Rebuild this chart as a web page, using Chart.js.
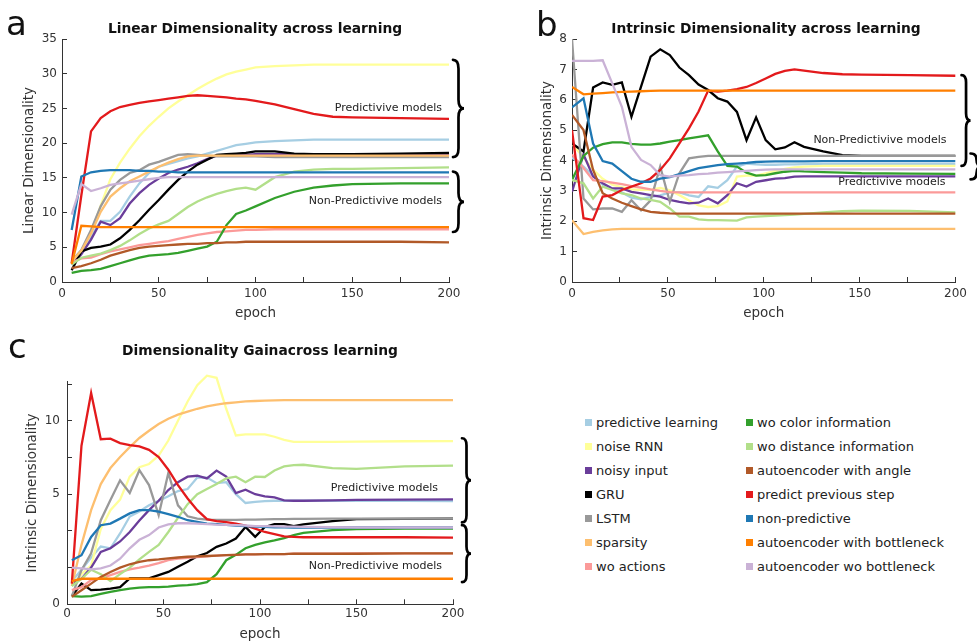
<!DOCTYPE html>
<html>
<head>
<meta charset="utf-8">
<title>Dimensionality across learning</title>
<script src="https://cdn.jsdelivr.net/npm/chart.js@4.4.1/dist/chart.umd.min.js"></script>
<style>
    body { margin: 0; background: #fff; font-family: 'DejaVu Sans', sans-serif; }
    #page { position: relative; width: 977px; height: 643px; overflow: hidden; }
    .panel { position: absolute; }
    .letter { position: absolute; font-size: 34px; line-height: 1; color: #111; }
    .title { position: absolute; font-size: 13.8px; line-height: 1.2; font-weight: bold; color: #111;
             white-space: nowrap; transform: translateX(-50%); }
    .legend-item { position: absolute; display: flex; align-items: center; height: 16px;
                   font-size: 13px; color: #222; white-space: nowrap; }
    .swatch { display: inline-block; width: 7px; height: 7px; margin-right: 4px; }
</style>
</head>
<body>
<div id="page">
    <div class="panel" style="left:0;top:0;width:480px;height:325px"><canvas id="linChart"></canvas></div>
    <div class="panel" style="left:520px;top:0;width:457px;height:325px"><canvas id="intChart"></canvas></div>
    <div class="panel" style="left:0;top:340px;width:480px;height:303px"><canvas id="gainChart"></canvas></div>

    <div class="letter" style="left:6px;top:6px">a</div>
    <div class="letter" style="left:536px;top:7px">b</div>
    <div class="letter" style="left:8px;top:329px">c</div>

    <div class="title" style="left:255px;top:20px">Linear Dimensionality across learning</div>
    <div class="title" style="left:766px;top:20px">Intrinsic Dimensionality across learning</div>
    <div class="title" style="left:260px;top:342px">Dimensionality Gainacross learning</div>

    <div id="legend"></div>
</div>

<script>
// ---- models (legend order) ----
const modelNames = [
    'predictive learning', 'noise RNN', 'noisy input', 'GRU', 'LSTM', 'sparsity', 'wo actions',
    'wo color information', 'wo distance information', 'autoencoder with angle',
    'predict previous step', 'non-predictive', 'autoencoder with bottleneck', 'autoencoder wo bottleneck'
];
const modelColors = [
    '#a6cee3', '#ffff99', '#6a3d9a', '#000000', '#999999', '#fdbf6f', '#fb9a99',
    '#33a02c', '#b2df8a', '#b15928', '#e31a1c', '#1f78b4', '#ff7f00', '#cab2d6'
];

// ---- a: linear dimensionality ----
const epochsA = [5, 10, 15, 20, 25, 30, 35, 40, 45, 50, 55, 60, 65, 70, 75, 80, 85, 90, 95, 100, 110, 120, 130, 140, 150, 175, 200];
const linPredictive = [3.0, 4.5, 6.5, 8.8, 8.8, 10.1, 12.3, 14.2, 15.7, 16.6, 17.0, 17.4, 17.8, 18.1, 18.5, 18.9, 19.3, 19.7, 19.9, 20.1, 20.3, 20.4, 20.5, 20.5, 20.5, 20.5, 20.5];
const linNoiseRnn = [2.5, 4.5, 7.0, 11.0, 14.8, 17.2, 19.2, 21.0, 22.5, 23.8, 25.0, 26.0, 26.9, 27.8, 28.6, 29.3, 29.9, 30.3, 30.6, 30.9, 31.1, 31.2, 31.3, 31.3, 31.3, 31.3, 31.3];
const linNoisyInput = [2.5, 4.0, 6.1, 8.7, 8.2, 9.2, 11.3, 12.8, 14.0, 14.9, 15.7, 16.2, 16.6, 17.1, 17.7, 18.2, 18.3, 18.3, 18.3, 18.4, 18.4, 18.4, 18.4, 18.4, 18.4, 18.4, 18.4];
const linGru = [1.7, 4.4, 4.9, 5.1, 5.4, 6.3, 7.5, 8.9, 10.4, 11.8, 13.3, 14.7, 15.9, 16.9, 17.6, 18.3, 18.4, 18.5, 18.6, 18.8, 18.8, 18.5, 18.4, 18.4, 18.4, 18.5, 18.6];
const linLstm = [3.0, 4.6, 7.5, 10.9, 13.3, 14.7, 15.7, 16.1, 16.9, 17.3, 17.8, 18.3, 18.4, 18.3, 18.2, 18.1, 18.1, 18.1, 18.1, 18.1, 18.0, 18.0, 18.0, 18.0, 18.0, 18.0, 18.0];
const linSparsity = [3.0, 4.5, 7.0, 10.1, 12.3, 13.5, 14.5, 15.2, 15.9, 16.6, 17.2, 17.7, 18.1, 18.2, 18.2, 18.2, 18.2, 18.2, 18.2, 18.2, 18.2, 18.2, 18.2, 18.2, 18.2, 18.2, 18.2];
const linWoActions = [2.8, 3.4, 3.5, 4.0, 4.4, 4.7, 5.0, 5.3, 5.5, 5.7, 5.9, 6.2, 6.5, 6.8, 7.0, 7.2, 7.3, 7.4, 7.5, 7.5, 7.6, 7.6, 7.6, 7.6, 7.6, 7.6, 7.6];
const linWoColor = [1.3, 1.6, 1.7, 1.9, 2.3, 2.7, 3.1, 3.5, 3.8, 3.9, 4.0, 4.2, 4.5, 4.8, 5.1, 5.8, 8.2, 9.8, 10.3, 10.9, 12.1, 13.0, 13.6, 13.9, 14.1, 14.2, 14.2];
const linWoDistance = [2.5, 3.5, 3.8, 4.1, 4.6, 5.2, 6.0, 6.9, 7.7, 8.3, 8.8, 9.8, 10.8, 11.6, 12.2, 12.7, 13.1, 13.4, 13.6, 13.3, 15.1, 15.9, 16.2, 16.3, 16.3, 16.4, 16.5];
const linAeAngle = [2.0, 2.3, 2.7, 3.2, 3.8, 4.2, 4.6, 4.9, 5.1, 5.2, 5.3, 5.4, 5.5, 5.5, 5.6, 5.6, 5.7, 5.7, 5.8, 5.8, 5.8, 5.8, 5.8, 5.8, 5.8, 5.8, 5.7];
const linPrevStep = [2.7, 12.5, 21.7, 23.6, 24.6, 25.2, 25.5, 25.8, 26.0, 26.2, 26.4, 26.6, 26.8, 26.9, 26.8, 26.7, 26.6, 26.4, 26.3, 26.1, 25.6, 24.9, 24.2, 23.8, 23.7, 23.6, 23.5];
const linNonPredictive = [7.5, 15.2, 15.8, 16.0, 16.1, 16.1, 16.1, 16.0, 16.0, 15.9, 15.9, 15.8, 15.8, 15.8, 15.8, 15.8, 15.8, 15.8, 15.8, 15.8, 15.8, 15.8, 15.8, 15.8, 15.8, 15.8, 15.8];
const linAeBottleneck = [2.6, 8.1, 8.0, 7.9, 7.9, 7.9, 7.9, 7.9, 7.9, 7.9, 7.9, 7.9, 7.9, 7.9, 7.9, 7.9, 7.9, 7.9, 7.9, 7.9, 7.9, 7.9, 7.9, 7.9, 7.9, 7.9, 7.9];
const linAeNoBottleneck = [9.7, 14.1, 13.1, 13.5, 14.0, 14.2, 14.4, 14.6, 14.8, 15.0, 15.1, 15.1, 15.1, 15.1, 15.1, 15.1, 15.1, 15.1, 15.1, 15.1, 15.1, 15.1, 15.1, 15.1, 15.1, 15.1, 15.1];

// ---- b: intrinsic dimensionality ----
const epochsB = [0, 6, 11, 16, 21, 26, 31, 36, 41, 46, 51, 56, 61, 66, 71, 76, 81, 86, 91, 96, 101, 106, 111, 116, 121, 131, 141, 151, 176, 200];
const intPredictive = [4.1, 3.8, 3.5, 3.2, 3.05, 2.95, 2.78, 2.72, 2.8, 2.85, 2.95, 2.95, 2.85, 2.8, 3.15, 3.1, 3.35, 3.8, 3.9, 3.87, 3.86, 3.86, 3.87, 3.87, 3.88, 3.88, 3.88, 3.88, 3.88, 3.88];
const intNoiseRnn = [4.55, 4.1, 3.7, 3.4, 3.2, 3.12, 3.05, 3.03, 3.03, 3.1, 3.02, 2.86, 2.68, 2.52, 2.47, 2.5, 2.65, 3.47, 3.5, 3.5, 3.58, 3.66, 3.72, 3.77, 3.8, 3.82, 3.82, 3.82, 3.82, 3.82];
const intNoisyInput = [2.97, 4.2, 3.47, 3.25, 3.08, 3.08, 2.97, 2.92, 2.86, 2.81, 2.7, 2.64, 2.59, 2.61, 2.75, 2.59, 2.86, 3.25, 3.14, 3.3, 3.35, 3.4, 3.42, 3.47, 3.48, 3.48, 3.48, 3.48, 3.48, 3.48];
const intGru = [4.56, 4.3, 6.4, 6.57, 6.49, 6.57, 5.44, 6.43, 7.42, 7.66, 7.47, 7.06, 6.81, 6.5, 6.32, 6.05, 5.94, 5.6, 4.67, 5.42, 4.67, 4.37, 4.43, 4.6, 4.45, 4.3, 4.18, 4.15, 4.15, 4.15];
const intLstm = [8.0, 2.75, 2.39, 2.42, 2.42, 2.31, 2.69, 2.36, 2.69, 3.8, 2.64, 3.58, 4.07, 4.12, 4.15, 4.15, 4.15, 4.15, 4.15, 4.15, 4.15, 4.15, 4.15, 4.15, 4.15, 4.15, 4.15, 4.15, 4.15, 4.15];
const intSparsity = [2.03, 1.58, 1.65, 1.7, 1.73, 1.75, 1.75, 1.75, 1.75, 1.75, 1.75, 1.75, 1.75, 1.75, 1.75, 1.75, 1.75, 1.75, 1.75, 1.75, 1.75, 1.75, 1.75, 1.75, 1.75, 1.75, 1.75, 1.75, 1.75, 1.75];
const intWoActions = [4.2, 3.75, 3.35, 3.32, 3.27, 3.22, 3.16, 3.11, 3.05, 3.0, 2.96, 2.95, 2.95, 2.95, 2.95, 2.95, 2.95, 2.95, 2.95, 2.95, 2.95, 2.95, 2.95, 2.95, 2.95, 2.95, 2.95, 2.95, 2.95, 2.95];
const intWoColor = [3.36, 4.15, 4.42, 4.54, 4.6, 4.6, 4.55, 4.52, 4.52, 4.56, 4.62, 4.67, 4.73, 4.78, 4.83, 4.3, 3.82, 3.8, 3.6, 3.5, 3.52, 3.58, 3.63, 3.66, 3.64, 3.62, 3.6, 3.58, 3.57, 3.56];
const intWoDistance = [3.36, 3.25, 2.75, 3.14, 3.03, 2.92, 2.86, 2.75, 2.7, 2.64, 2.42, 2.15, 2.15, 2.06, 2.04, 2.04, 2.03, 2.02, 2.13, 2.15, 2.17, 2.19, 2.2, 2.22, 2.24, 2.29, 2.33, 2.35, 2.34, 2.29];
const intAeAngle = [5.5, 5.0, 3.69, 2.92, 2.75, 2.61, 2.5, 2.39, 2.31, 2.28, 2.26, 2.25, 2.25, 2.25, 2.25, 2.25, 2.25, 2.25, 2.25, 2.25, 2.25, 2.25, 2.25, 2.25, 2.25, 2.25, 2.25, 2.25, 2.25, 2.25];
const intPrevStep = [5.0, 2.1, 2.04, 2.81, 2.86, 3.03, 3.14, 3.25, 3.41, 3.69, 4.07, 4.56, 5.06, 5.61, 6.3, 6.27, 6.3, 6.35, 6.42, 6.55, 6.7, 6.85, 6.95, 7.0, 6.96, 6.88, 6.84, 6.83, 6.81, 6.79];
const intNonPredictive = [5.75, 6.05, 4.56, 3.98, 3.9, 3.65, 3.4, 3.3, 3.3, 3.4, 3.45, 3.55, 3.65, 3.75, 3.8, 3.85, 3.88, 3.9, 3.92, 3.95, 3.96, 3.97, 3.97, 3.97, 3.97, 3.98, 3.98, 3.98, 3.98, 3.98];
const intAeBottleneck = [6.42, 6.18, 6.2, 6.22, 6.24, 6.26, 6.27, 6.28, 6.29, 6.3, 6.3, 6.3, 6.3, 6.3, 6.3, 6.3, 6.3, 6.3, 6.3, 6.3, 6.3, 6.3, 6.3, 6.3, 6.3, 6.3, 6.3, 6.3, 6.3, 6.3];
const intAeNoBottleneck = [7.28, 7.28, 7.28, 7.3, 6.54, 5.77, 4.45, 4.02, 3.85, 3.52, 3.47, 3.5, 3.52, 3.55, 3.57, 3.6, 3.62, 3.64, 3.66, 3.68, 3.7, 3.71, 3.71, 3.71, 3.71, 3.71, 3.71, 3.71, 3.71, 3.71];

// ---- c: dimensionality gain (log axis) ----
const epochsC = [2.5, 7.5, 12.5, 17.5, 22.5, 27.5, 32.5, 37.5, 42.5, 47.5, 52.5, 57.5, 62.5, 67.5, 72.5, 77.5, 82.5, 87.5, 92.5, 97.5, 102.5, 107.5, 112.5, 117.5, 122.5, 137.5, 150, 175, 200];
const gainPredictive = [2.2, 2.45, 2.75, 3.05, 3.0, 3.45, 4.05, 4.25, 4.5, 4.7, 4.9, 5.15, 5.25, 5.85, 5.85, 5.55, 5.6, 5.0, 4.6, 4.65, 4.68, 4.7, 4.7, 4.7, 4.7, 4.7, 4.7, 4.7, 4.68];
const gainNoiseRnn = [2.1, 2.35, 2.55, 3.6, 4.3, 4.75, 5.9, 6.45, 6.65, 7.2, 8.3, 10.0, 12.0, 14.0, 15.3, 15.0, 11.2, 8.7, 8.8, 8.8, 8.8, 8.6, 8.35, 8.2, 8.2, 8.2, 8.22, 8.24, 8.25];
const gainNoisyInput = [2.15, 2.25, 2.5, 2.9, 3.0, 3.2, 3.5, 3.9, 4.3, 4.7, 5.2, 5.6, 5.9, 5.95, 5.8, 6.25, 5.9, 5.05, 5.22, 5.0, 4.9, 4.85, 4.72, 4.7, 4.7, 4.72, 4.74, 4.75, 4.76];
const gainGru = [1.91, 2.15, 2.02, 2.03, 2.05, 2.08, 2.26, 2.26, 2.26, 2.33, 2.4, 2.52, 2.64, 2.78, 2.87, 3.04, 3.14, 3.29, 3.67, 3.34, 3.67, 3.77, 3.77, 3.7, 3.76, 3.88, 3.95, 3.96, 3.97];
const gainLstm = [1.91, 2.44, 2.86, 3.91, 4.73, 5.7, 5.06, 6.27, 5.45, 4.1, 6.11, 4.5, 4.06, 3.97, 3.93, 3.92, 3.92, 3.92, 3.93, 3.93, 3.94, 3.95, 3.95, 3.96, 3.96, 3.97, 3.97, 3.97, 3.97];
const gainSparsity = [2.1, 3.1, 4.3, 5.5, 6.4, 7.1, 7.8, 8.5, 9.1, 9.7, 10.2, 10.6, 10.9, 11.2, 11.45, 11.65, 11.8, 11.9, 12.0, 12.05, 12.1, 12.12, 12.14, 12.15, 12.15, 12.16, 12.16, 12.16, 12.16];
const gainWoActions = [2.02, 2.08, 2.22, 2.26, 2.33, 2.4, 2.46, 2.5, 2.55, 2.61, 2.68, 2.72, 2.74, 2.76, 2.78, 2.8, 2.81, 2.82, 2.83, 2.83, 2.84, 2.84, 2.84, 2.85, 2.85, 2.85, 2.86, 2.86, 2.86];
const gainWoColor = [1.91, 1.9, 1.91, 1.95, 1.99, 2.02, 2.05, 2.07, 2.08, 2.08, 2.09, 2.11, 2.12, 2.14, 2.18, 2.35, 2.68, 2.82, 3.0, 3.1, 3.17, 3.23, 3.3, 3.4, 3.47, 3.56, 3.6, 3.61, 3.61];
const gainWoDistance = [2.1, 2.25, 2.45, 2.35, 2.2, 2.35, 2.5, 2.7, 2.9, 3.1, 3.5, 4.0, 4.55, 5.0, 5.25, 5.5, 5.8, 5.9, 5.6, 5.9, 5.88, 6.25, 6.5, 6.58, 6.6, 6.4, 6.35, 6.5, 6.55];
const gainAeAngle = [1.9, 2.02, 2.15, 2.29, 2.4, 2.5, 2.58, 2.64, 2.68, 2.7, 2.73, 2.75, 2.77, 2.78, 2.79, 2.8, 2.81, 2.82, 2.83, 2.83, 2.84, 2.84, 2.84, 2.85, 2.85, 2.85, 2.85, 2.86, 2.86];
const gainPrevStep = [2.15, 7.9, 13.0, 8.4, 8.45, 8.1, 7.95, 7.85, 7.6, 7.1, 6.3, 5.45, 4.8, 4.3, 3.95, 3.88, 3.84, 3.79, 3.72, 3.61, 3.5, 3.43, 3.36, 3.34, 3.33, 3.33, 3.33, 3.33, 3.32];
const gainNonPredictive = [2.68, 2.81, 3.34, 3.73, 3.79, 3.97, 4.17, 4.3, 4.3, 4.24, 4.14, 4.04, 3.91, 3.85, 3.79, 3.77, 3.74, 3.72, 3.7, 3.68, 3.67, 3.66, 3.66, 3.65, 3.65, 3.65, 3.65, 3.65, 3.65];
const gainAeBottleneck = [2.2, 2.25, 2.25, 2.25, 2.25, 2.25, 2.25, 2.25, 2.25, 2.25, 2.25, 2.25, 2.25, 2.25, 2.25, 2.25, 2.25, 2.25, 2.25, 2.25, 2.25, 2.25, 2.25, 2.25, 2.25, 2.25, 2.25, 2.25, 2.25];
const gainAeNoBottleneck = [2.5, 2.48, 2.46, 2.48, 2.55, 2.72, 3.0, 3.25, 3.4, 3.65, 3.76, 3.8, 3.8, 3.79, 3.77, 3.75, 3.74, 3.73, 3.72, 3.7, 3.7, 3.69, 3.68, 3.68, 3.67, 3.66, 3.65, 3.65, 3.65];

// tick marks of the gain axis and the labels printed on them
const gainTicks = [1.768, 2.5, 3.536, 5, 7.071, 10, 14.14];
const gainTickLabels = ['0', '', '', '5', '', '10', ''];

// ============================================================

const axisColor = '#333';
Chart.defaults.font.family = "'DejaVu Sans', sans-serif";
Chart.defaults.color = '#333';

function drawBrace(ctx, x, yTop, yBot, depth) {
    const mid = (yTop + yBot) / 2;
    const r = depth / 2;
    const c = Math.min(depth * 0.8, (yBot - yTop) / 4);
    ctx.beginPath();
    ctx.moveTo(x, yTop);
    ctx.quadraticCurveTo(x + r, yTop, x + r, yTop + c);
    ctx.lineTo(x + r, mid - c);
    ctx.quadraticCurveTo(x + r, mid, x + depth, mid);
    ctx.quadraticCurveTo(x + r, mid, x + r, mid + c);
    ctx.lineTo(x + r, yBot - c);
    ctx.quadraticCurveTo(x + r, yBot, x, yBot);
    ctx.stroke();
}

// group notes + curly braces to the right of the plot
function groupMarks(notes, braces) {
    return {
        id: 'groupMarks',
        afterDraw(chart) {
            const { ctx, chartArea, scales } = chart;
            const y = scales.y;
            ctx.save();
            ctx.fillStyle = '#222';
            ctx.font = "11px 'DejaVu Sans', sans-serif";
            ctx.textAlign = 'right';
            ctx.textBaseline = 'middle';
            notes.forEach(n => ctx.fillText(n.text, chartArea.right - n.inset, y.getPixelForValue(n.at)));
            ctx.strokeStyle = '#000';
            ctx.lineWidth = 2.7;
            ctx.lineCap = 'round';
            braces.forEach(b => drawBrace(ctx, chartArea.right + b.gap,
                y.getPixelForValue(b.from), y.getPixelForValue(b.to), b.depth));
            ctx.restore();
        }
    };
}

function lineSets(epochs, series, clip) {
    return series.map((vals, i) => ({
        label: modelNames[i],
        data: vals.map((v, k) => ({ x: epochs[k], y: v })),
        borderColor: modelColors[i],
        backgroundColor: modelColors[i],
        borderWidth: 2.3,
        pointRadius: 0,
        tension: 0,
        order: series.length - i,   // later models on top
        clip: clip
    }));
}

function epochAxis(labelPad, titlePad, height) {
    return {
        type: 'linear', min: 0, max: 200,
        border: { display: true, color: axisColor, width: 1 },
        grid: { drawOnChartArea: false, drawTicks: true, tickLength: -5, color: axisColor },
        ticks: { stepSize: 25, padding: labelPad, autoSkip: false, maxRotation: 0, font: { size: 12 },
                 callback: v => (v % 50 === 0 ? v : '') },
        title: { display: true, text: 'epoch', font: { size: 13.5 }, padding: { top: 0, bottom: titlePad } },
        afterFit: s => { s.height = height; }
    };
}

function valueAxis(extra, text, titlePad, width, labelPad) {
    return Object.assign({
        border: { display: true, color: axisColor, width: 1 },
        grid: { drawOnChartArea: false, drawTicks: true, tickLength: -5, color: axisColor },
        title: { display: true, text: text, font: { size: 13.5 }, padding: { top: titlePad, bottom: 0 } },
        afterFit: s => { s.width = width; }
    }, extra, {
        ticks: Object.assign({ padding: labelPad, font: { size: 12 } }, extra.ticks || {})
    });
}

function makeChart(id, datasets, padding, scales, plugin) {
    return new Chart(document.getElementById(id), {
        type: 'line',
        data: { datasets: datasets },
        options: {
            responsive: true,
            maintainAspectRatio: false,
            animation: false,
            layout: { padding: padding },
            plugins: { legend: { display: false }, tooltip: { enabled: false } },
            scales: scales
        },
        plugins: [plugin]
    });
}

makeChart('linChart',
    lineSets(epochsA, [linPredictive, linNoiseRnn, linNoisyInput, linGru, linLstm, linSparsity, linWoActions,
        linWoColor, linWoDistance, linAeAngle, linPrevStep, linNonPredictive, linAeBottleneck, linAeNoBottleneck], true),
    { top: 39, right: 31, bottom: 0, left: 0 },
    {
        x: epochAxis(10, 3.6, 43),
        y: valueAxis({ min: 0, max: 35, ticks: { stepSize: 5 } }, 'Linear Dimensionality', 21, 62, 10)
    },
    groupMarks(
        [{ text: 'Predictivive models', at: 25.1, inset: 7 },
         { text: 'Non-Predictivive models', at: 11.7, inset: 7 }],
        [{ from: 32.0, to: 18.0, gap: 4, depth: 11 },
         { from: 15.9, to: 7.2, gap: 4, depth: 11 }])
);

makeChart('intChart',
    lineSets(epochsB, [intPredictive, intNoiseRnn, intNoisyInput, intGru, intLstm, intSparsity, intWoActions,
        intWoColor, intWoDistance, intAeAngle, intPrevStep, intNonPredictive, intAeBottleneck, intAeNoBottleneck], true),
    { top: 39, right: 18, bottom: 0, left: 0 },
    {
        x: epochAxis(10, 3.6, 43),
        y: valueAxis({ min: 0, max: 8, ticks: { stepSize: 1 } }, 'Intrinsic Dimensionality', 19, 52, 10)
    },
    groupMarks(
        [{ text: 'Non-Predictivive models', at: 4.67, inset: 9 },
         { text: 'Predictivive models', at: 3.29, inset: 10 }],
        [{ from: 6.81, to: 3.82, gap: 6, depth: 9 },
         { from: 4.23, to: 3.38, gap: 15, depth: 12 }])
);

makeChart('gainChart',
    lineSets(epochsC, [gainPredictive, gainNoiseRnn, gainNoisyInput, gainGru, gainLstm, gainSparsity, gainWoActions,
        gainWoColor, gainWoDistance, gainAeAngle, gainPrevStep, gainNonPredictive, gainAeBottleneck, gainAeNoBottleneck], false),
    { top: 41.7, right: 27, bottom: 0, left: 0 },
    {
        x: epochAxis(7.8, 0, 38.7),
        y: valueAxis({
            type: 'logarithmic', min: gainTicks[0], max: 14.46,
            afterBuildTicks: s => { s.ticks = gainTicks.map(v => ({ value: v })); },
            ticks: { callback: (v, i) => gainTickLabels[i] }
        }, 'Intrinsic Dimensionality', 24, 67, 12)
    },
    groupMarks(
        [{ text: 'Predictivive models', at: 5.3, inset: 15 },
         { text: 'Non-Predictivive models', at: 2.53, inset: 11 }],
        [{ from: 8.48, to: 3.83, gap: 9, depth: 9 },
         { from: 3.73, to: 2.18, gap: 9, depth: 9 }])
);

// legend (two columns of seven)
const legendEl = document.getElementById('legend');
modelNames.forEach((name, i) => {
    const item = document.createElement('div');
    item.className = 'legend-item';
    item.style.left = (i < 7 ? 585 : 746) + 'px';
    item.style.top = (414 + (i % 7) * 24) + 'px';
    item.innerHTML = `<span class="swatch" style="background:${modelColors[i]}"></span>${name}`;
    legendEl.appendChild(item);
});
</script>
</body>
</html>
